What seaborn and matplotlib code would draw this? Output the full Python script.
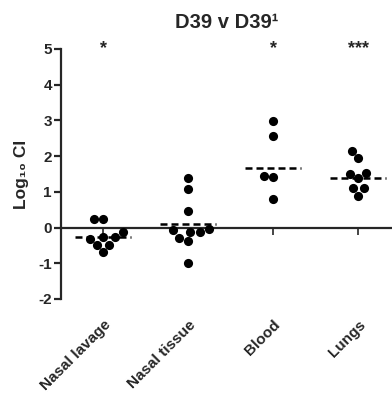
import matplotlib
matplotlib.use("Agg")
import matplotlib.pyplot as plt
import seaborn as sns
import pandas as pd
import numpy as np

sns.set_style("ticks")
plt.rcParams['font.family'] = ['Liberation Sans', 'DejaVu Sans']
plt.rcParams['font.weight'] = 'bold'

categories = ["Nasal lavage", "Nasal tissue", "Blood", "Lungs"]
nasal_lavage = [0.24, 0.24, -0.27, -0.27, -0.13, -0.32, -0.48, -0.48, -0.68]
nasal_tissue = [1.38, 1.07, 0.47, -0.03, -0.12, -0.28, -0.37, -0.12, -0.08, -0.98]
blood = [2.97, 2.57, 1.45, 1.43, 0.79]
lungs = [2.15, 1.96, 1.51, 1.54, 1.38, 1.10, 1.10, 0.89]
center_lines = [-0.27, 0.09, 1.66, 1.38]
significance = ["*", "", "*", "***"]
y_ticks = [-2, -1, 0, 1, 2, 3, 4, 5]

groups = [nasal_lavage, nasal_tissue, blood, lungs]
df = pd.DataFrame({
    "tissue": [c for c, g in zip(categories, groups) for _ in g],
    "value": [v for g in groups for v in g],
})

fig = plt.figure(figsize=(3.92, 3.94), dpi=100)
ax = fig.add_axes([61/392, (394-299)/394, 331/392, 250/394])

sns.swarmplot(data=df, x="tissue", y="value", order=categories, color="black",
              size=6.6, ax=ax, zorder=3)

xpos = np.arange(len(categories))
ax.hlines(center_lines, xpos - 0.33, xpos + 0.33, colors="black",
          linestyles=(0, (2.8, 1.6)), linewidth=1.8, zorder=4)

for x, s in zip(xpos, significance):
    if s:
        ax.text(x, 5.0, s, ha="center", va="center", fontsize=13, fontweight="bold")

ax.set_xlim(-0.5, 3.4)
ax.set_ylim(-2, 5)
ax.set_yticks(y_ticks)
ax.set_yticklabels([str(t) for t in y_ticks], fontsize=11, fontweight="bold")

ax.spines["top"].set_visible(False)
ax.spines["right"].set_visible(False)
ax.spines["left"].set_linewidth(1.6)
ax.spines["bottom"].set_linewidth(1.6)
ax.spines["bottom"].set_position(("data", 0))
ax.tick_params(axis="y", length=5, width=1.6, pad=1.5)
ax.tick_params(axis="x", length=5, width=1.2, pad=60)
ax.set_xticks(xpos)
ax.set_xticklabels(categories, rotation=45, ha="right", va="top",
                   rotation_mode="anchor", fontsize=11, fontweight="bold")
ax.set_xlabel("")
ax.set_ylabel("Log₁₀ CI", fontsize=12.5, fontweight="bold", labelpad=7)
ax.set_title("D39 v D39¹", fontsize=14.5, fontweight="bold", pad=15)

fig.savefig("out.png", dpi=100)
